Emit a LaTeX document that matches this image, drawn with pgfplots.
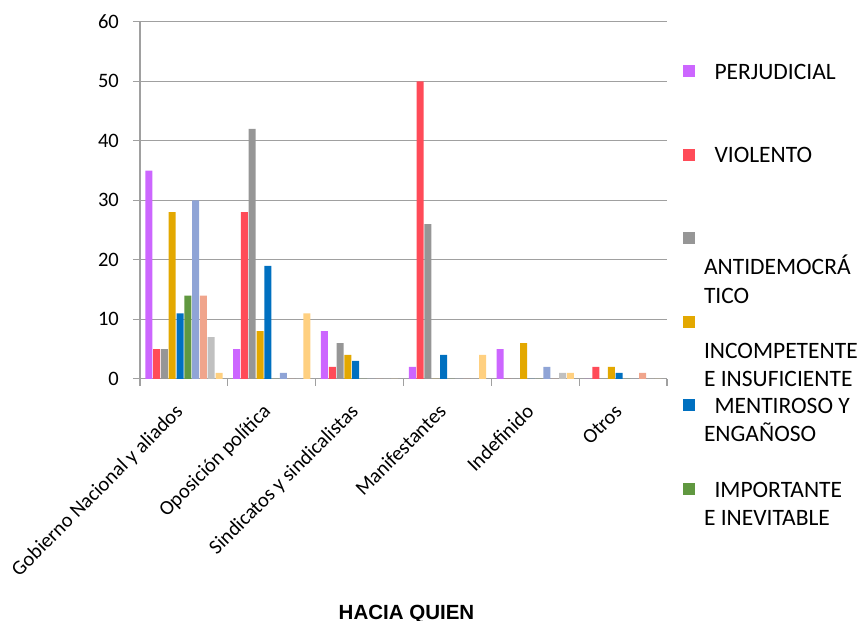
\documentclass[border=0pt]{standalone}
\usepackage{pgfplots}
\pgfplotsset{compat=1.18}
\usepackage{fontspec}
\setmainfont{Carlito}
\newfontfamily\arialfont{Liberation Sans}
\definecolor{c1}{RGB}{204,102,255}
\definecolor{c2}{RGB}{255,75,88}
\definecolor{c3}{RGB}{150,150,150}
\definecolor{c4}{RGB}{227,168,0}
\definecolor{c5}{RGB}{0,112,192}
\definecolor{c6}{RGB}{96,152,64}
\definecolor{c7}{RGB}{143,164,214}
\definecolor{c8}{RGB}{240,165,140}
\definecolor{c9}{RGB}{192,192,192}
\definecolor{c10}{RGB}{255,208,128}
\definecolor{axgray}{RGB}{160,160,160}
\newcommand{\lgd}[1]{\parbox[t]{175pt}{\fontsize{23.5}{28.5}\selectfont #1}}
\begin{document}
\begin{tikzpicture}
\useasboundingbox (0,0) rectangle (860pt,621pt);
\begin{axis}[
 at={(140pt,242.2pt)}, anchor=south west,
 scale only axis, width=527pt, height=357pt,
 xmin=-0.5, xmax=5.5, ymin=0, ymax=60,
 ybar=0.8pt, bar width=7pt,
 xtick={0,...,5},
 xticklabels={Gobierno Nacional y aliados, Oposición política, Sindicatos y sindicalistas, Manifestantes, Indefinido, Otros},
 minor xtick={-0.5,0.5,...,5.5},
 ytick={0,10,...,60},
 tick align=outside, tick pos=left,
 major tick length=7pt, minor tick length=7pt,
 every tick/.style={color=axgray, line width=1.2pt},
 major x tick style={draw=none},
 axis x line*=bottom, axis y line*=left,
 axis line style={color=axgray, line width=1.2pt},
 ymajorgrids, major grid style={color=axgray, line width=1.2pt},
 ticklabel style={font=\fontsize{20.5}{24}\selectfont},
 /pgf/number format/assume math mode=true,
 yticklabel style={anchor=east, inner sep=0pt, xshift=-14pt},
 xticklabel style={inner sep=0pt, anchor=base east, xshift=0pt, yshift=-27pt, rotate=45},
 xlabel={\arialfont\bfseries HACIA QUIEN},
 xlabel style={at={(axis description cs:0.5057,-0.6748)}, anchor=base, font=\fontsize{20.5}{24}\selectfont, inner sep=0pt},
 legend style={at={(axis description cs:1.0304,0.8874)}, anchor=north west, draw=none, fill=none, inner sep=0pt, outer sep=0pt, row sep=0pt, column sep=7pt, cells={anchor=base west, inner sep=0pt}, font=\fontsize{23.5}{28.5}\selectfont},
 legend image code/.code={\path[fill=none, draw=none] (0pt,-66.4pt) rectangle (12pt,17pt); \fill[#1] (0pt,2pt) rectangle (12pt,14pt);},
]
\addplot[fill=c1, draw=none] coordinates {(0,35) (1,5) (2,8) (3,2) (4,5) (5,0)};
\addlegendentry{\lgd{\hspace*{10.5pt}PERJUDICIAL}}
\addplot[fill=c2, draw=none] coordinates {(0,5) (1,28) (2,2) (3,50) (4,0) (5,2)};
\addlegendentry{\lgd{\hspace*{10.5pt}VIOLENTO}}
\addplot[fill=c3, draw=none] coordinates {(0,5) (1,42) (2,6) (3,26) (4,0) (5,0)};
\addlegendentry{\lgd{\mbox{}\\ANTIDEMOCRÁ\\TICO}}
\addplot[fill=c4, draw=none] coordinates {(0,28) (1,8) (2,4) (3,0) (4,6) (5,2)};
\addlegendentry{\lgd{\mbox{}\\INCOMPETENTE\\E INSUFICIENTE}}
\addplot[fill=c5, draw=none] coordinates {(0,11) (1,19) (2,3) (3,4) (4,0) (5,1)};
\addlegendentry{\lgd{\hspace*{10.5pt}MENTIROSO Y\\ENGAÑOSO}}
\addplot[fill=c6, draw=none] coordinates {(0,14) (1,0) (2,0) (3,0) (4,0) (5,0)};
\addlegendentry{\lgd{\hspace*{10.5pt}IMPORTANTE\\E INEVITABLE}}
\addplot[fill=c7, draw=none] coordinates {(0,30) (1,1) (2,0) (3,0) (4,2) (5,0)};
\addplot[fill=c8, draw=none] coordinates {(0,14) (1,0) (2,0) (3,0) (4,0) (5,1)};
\addplot[fill=c9, draw=none] coordinates {(0,7) (1,0) (2,0) (3,0) (4,1) (5,0)};
\addplot[fill=c10, draw=none] coordinates {(0,1) (1,11) (2,0) (3,4) (4,1) (5,0)};
\end{axis}
\end{tikzpicture}
\end{document}
